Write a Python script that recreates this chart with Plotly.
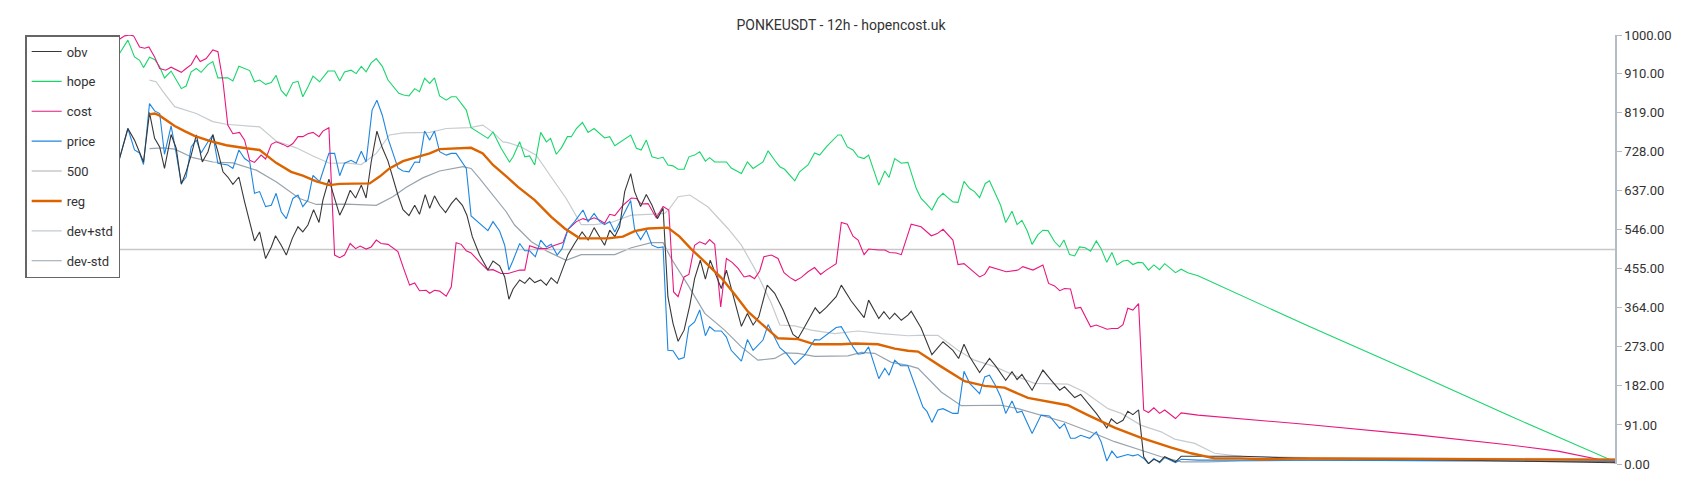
import plotly.graph_objects as go

# x = candle index (12h candles), y = normalised value 0..1000

hope_x = [0.5, 3.3, 5.5, 7.2, 8.5, 10.5, 12.2, 13.9, 15.5, 17.7, 21.1, 22.7, 24.4, 26.1, 27.7, 30, 31.6, 33.3, 36.6, 38.3,
          40.3, 43.9, 45.5, 47.2, 49.2, 51.1, 52.7, 54.4, 56.1, 58.3, 60, 61.6, 63.3, 65, 67.2, 70, 72.2, 73.9, 75.5, 77.7,
          79.4, 81.1, 82.7, 84.4, 86.1, 88.1, 90, 93.6, 95.2, 97, 98.9, 100.5, 102.2, 103.9, 105.5, 107.2, 109.4, 111.1,
          112.7, 114.4, 116.1, 117.7, 123.3, 125, 127.7, 130.5,
          131.7, 133.9, 135.6, 137.2, 138.9, 140.9, 142.8, 144.2, 146.1, 147.8, 149.8, 151.1, 152.8, 154.8, 156.7, 158.7,
          162.2, 163.9, 165.6, 170.9, 172.8, 174.4, 176.1, 178, 180, 181.7, 183.3, 185, 186.7, 188.7, 190.3, 192.2, 193.9,
          195.8, 197.2, 198.9, 202.8, 204.4, 207.8, 209.8, 211.7, 215, 216.7, 218.9, 220.6, 222.2, 225.6, 227.2, 230,
          232.2, 233.9, 236.1, 240, 241.1, 243.1, 245, 246.7, 248.7, 250.2, 253.6, 255.6, 257, 258.9, 261.1, 263.3,
          266.1, 267.7, 269.4, 271.3, 273.3, 275, 276.6, 278.3, 280, 282, 283.9, 285.5, 287.2, 289.1, 290.5, 292.4, 294.2,
          295.9, 298, 299.7, 301.3, 303.1, 304.7, 306.6, 308.3, 310, 312.2, 313.9, 315.3, 317.2, 318.9, 320.5, 322.4,
          324.2, 326.1, 327.7, 329.6, 331.3, 333, 335, 336.6, 338.3, 340, 341.6, 343.5, 345.3, 347.2, 348.9, 350.5,
          352.5, 354.4, 356.6, 360, 396.6, 430, 463.3, 499]
hope_y = [957, 988, 949, 941, 924, 948, 943, 926, 900, 916, 875, 881, 914, 922, 913, 931, 938, 900, 900, 893,
          927, 917, 891, 895, 885, 889, 906, 871, 858, 889, 892, 856, 879, 904, 891, 916, 916, 893, 914, 918,
          910, 927, 914, 935, 945, 927, 895, 864, 860, 858, 875, 868, 899, 887, 900, 858, 848, 856,
          856, 840, 825, 784, 759, 774, 736, 704,
          716, 751, 716, 718, 697, 773, 751, 759, 722, 737, 763, 763, 782, 796, 773, 782,
          760, 763, 742, 767, 736, 732, 755, 716, 712, 715, 697, 695, 687, 687, 716, 720, 728,
          706, 714, 704, 704, 690, 677, 704, 689, 704, 730, 708, 693, 687, 660, 681, 697,
          725, 720, 739, 767, 767, 739, 732, 716, 712, 720, 650, 683, 668, 712, 701, 703,
          642, 619, 607, 592, 619, 631, 621, 611, 610, 659, 642, 635, 621, 654, 660, 631, 603,
          563, 589, 558, 568, 543, 512, 534, 545, 544, 518, 506, 522, 488, 485, 506, 504,
          496, 520, 502, 470, 493, 464, 473, 475, 465, 470, 469, 452, 464, 453, 467, 457,
          446, 454, 446, 439, 322, 219, 114, 5]

cost_x = [0.5, 2.2, 3.9, 5.2, 7.2, 8.9, 10.3, 12.2, 13.9, 15.9, 17.7, 21.1, 22.7, 24.4, 26.1, 27.4, 29.4, 31.6, 33.3,
          35, 36.6, 38.3, 40.5, 42.2, 43.9, 45.5, 47.7, 49.2, 51.1, 52.7, 55, 56.6, 58.3, 60, 61.6, 63.3, 65, 67, 68.3,
          70.3, 72.2, 73.9, 75.5, 77.4, 79.2, 80.7, 82.7, 84.4, 86.1, 87.7, 90, 93.3, 95.2, 97.2, 98.9, 100.5, 102.7,
          103.9, 105.5, 107.2, 109.4, 111.1, 112.7, 114.4, 116.1, 117.7, 120.5, 123.3, 125, 127.7, 130,
          131.7, 133.9, 135.6, 137.2, 140, 142.8, 145.6, 148.3, 150, 152.8, 155, 156.7, 158.7, 160.6, 162.2, 163.9,
          165.6, 168.3, 171.1, 172.8, 174.4, 176.7, 179.4, 181.7, 183.6, 185.2, 186.7, 188.7, 190.3, 192.2, 193.9,
          195.8, 197.2, 198.9, 200.9, 202.8, 204.7, 206.7, 208.7, 210.6, 212.2, 213.9, 215.3, 217.8, 220, 222, 223.9,
          225.8, 227.8, 230, 232.2, 234.2, 236.1, 239.4, 241.1, 243.1, 245, 246.7, 248.7, 250.2, 253.6, 255.6, 257.2,
          259.4, 261.1, 263.3, 264.4, 267.7, 271.1, 273.1, 275, 278.3, 280, 282, 287.2, 288.9, 290.5, 296.1, 300,
          301.6, 305, 308.3, 310.2, 312.2, 313.9, 315.5, 317.5, 319.1, 320.9, 324.2, 326.1, 329.7, 331.3, 333.3, 335,
          336.6, 338.3, 340.2, 341.9, 343.5, 345.3, 347.2, 348.9, 352.5, 354.4, 360, 374.4, 396.6, 433, 463.3, 480, 499]
cost_y = [990, 998, 1000, 998, 972, 969, 972, 949, 922, 918, 925, 913, 922, 931, 952, 938, 945, 965, 961,
          891, 790, 770, 773, 755, 708, 703, 720, 711, 745, 751, 745, 739, 747, 763, 763, 770, 773, 763, 776,
          784, 487, 481, 487, 514, 502, 508, 501, 506, 522, 514, 512, 495, 456, 417, 422, 404, 405,
          398, 405, 403, 391, 413, 516, 512, 497, 492, 471, 452, 453, 444, 444,
          448, 452, 452, 509, 502, 502, 510, 516, 547, 565, 572, 568, 574, 568, 561, 582,
          579, 603, 620, 619, 606, 607, 574, 600, 592, 401, 390, 436, 442, 510, 518,
          512, 523, 512, 366, 479, 470, 456, 436, 439, 432, 450, 483, 487, 479, 446, 435,
          427, 435, 448, 458, 442, 452, 467, 563, 559, 531, 522, 488, 501, 499, 499, 493,
          492, 488, 537, 559, 553, 532, 537, 547, 522, 465, 467, 436, 442, 460, 448, 452,
          460, 452, 464, 421, 415, 404, 409, 408, 363, 365, 320, 324, 314, 316, 316, 325,
          363, 359, 374, 126, 120, 131, 118, 126, 106, 119, 114, 106, 92, 68, 45, 30, 3]

price_x = [0.5, 3.3, 5.5, 7.2, 8.5, 10.5, 12.2, 13.9, 15.5, 17.7, 19.4, 21.1, 22.7, 24.4, 26.1, 27.7, 30, 31.6, 33.3,
           36.6, 38.3, 40.3, 42.2, 43.9, 45.5, 47.2, 49.2, 51.1, 52.7, 54.4, 56.1, 58.3, 60, 61.6, 63.3, 65, 67.2, 70.3,
           72.2, 73.9, 75.5, 77.7, 79.4, 81.1, 82.7, 84.7, 86.3, 88.1, 90, 91.6, 93.3, 95, 97, 98.9, 100.5, 102.2, 103.9,
           105.5, 107.2, 109.4, 111.1, 112.7, 116.1, 117.7, 121.1, 123.3, 125, 127.2, 128.9, 130.3,
           131.7, 133.9, 135.6, 137.2, 139.1, 140.9, 142.8, 144.4, 146.4, 148, 150, 152.2, 155, 156.7, 158.7, 160.6,
           162.2, 163.9, 165.6, 168.3, 170.9, 172.2, 174.2, 176.1, 178, 180, 181.7, 183.3, 185, 186.9, 188.7, 190.3,
           192.2, 193.9, 195.8, 197.2, 198.9, 201.1, 202.8, 204.4, 207.8, 209.8, 211.7, 215, 216.7, 220.6, 222.8, 225.6,
           228.9, 232.2, 233.9, 239.4, 241.1, 243.1, 245, 246.7, 248.7, 250.2, 253.6, 255.6, 257, 258.9, 260.9, 263.3,
           266.1, 268.3, 269.7, 271.3, 273.3, 275, 278.3, 280, 282, 283.9, 287.2, 288.9, 290.5, 292.4, 294.2, 295.9,
           298, 299.7, 301.3, 304.7, 307.7, 310.5, 313.9, 315.5, 317.5, 319.1, 320.9, 323.9, 326.1, 327.7, 329.6,
           331.3, 333, 336.6, 338.3, 340, 341.9, 343.5, 345.3, 347.2, 348.9, 352.5, 354.4, 360, 396.6, 499]
price_y = [712, 782, 732, 725, 698, 840, 823, 817, 722, 788, 724, 654, 669, 739, 755, 725, 751, 767, 701,
           697, 689, 732, 712, 704, 631, 635, 600, 603, 631, 588, 572, 619, 627, 600, 615, 673, 658, 724,
           724, 672, 701, 708, 701, 729, 704, 825, 848, 813, 759, 724, 690, 683, 681, 704, 703, 776, 755,
           776, 728, 720, 724, 724, 689, 578, 557, 544, 565, 543, 510, 452,
           475, 514, 497, 497, 483, 522, 506, 512, 487, 502, 547, 565, 592, 565, 584, 565,
           558, 565, 541, 580, 614, 547, 523, 545, 510, 504, 506, 265, 264, 244, 248, 320,
           331, 359, 299, 320, 310, 310, 296, 265, 240, 290, 265, 289, 325, 271, 258, 232,
           254, 290, 289, 318, 320, 296, 273, 256, 258, 273, 199, 223, 207, 242, 229, 229,
           176, 133, 122, 97, 126, 129, 118, 118, 216, 188, 164, 203, 207, 184, 157, 118,
           147, 120, 123, 71, 114, 112, 83, 94, 60, 60, 67, 60, 75, 52, 7,
           30, 15, 22, 19, 22, 13, 1, 13, 3, 15, 3, 11, 9, 9, 6]

obv_x = [0.5, 3.3, 5.5, 7.2, 8.5, 10.5, 12.2, 13.9, 15.5, 17.7, 19.4, 21.1, 22.7, 24.4, 26.1, 28.1, 30, 31.6, 33.3,
         35, 36.6, 38.3, 40.3, 42.2, 43.9, 45.5, 47.2, 49.2, 51.1, 52.5, 54.4, 56.1, 58.1, 60, 61.6, 63.3, 65.2, 67,
         68.3, 70.3, 72.2, 73.9, 75.5, 77.4, 79.2, 81.1, 82.7, 84.4, 86.3, 88.1, 90, 91.6, 93.3, 95, 97, 98.9, 100.5,
         102.4, 103.9, 105.5, 107.2, 109.2, 111.1, 112.7, 114.8, 116.3, 118.1, 120.5, 123.3, 125, 127.2, 128.9, 130.3,
         131.7, 133.9, 135.6, 137.2, 138.9, 140.9, 142.8, 144.4, 146.4, 148.3, 150, 152.2, 154.7, 156.7, 158.7, 160.2,
         162.2, 163.9, 165.6, 167.2, 168.9, 170.9, 172.2, 174.2, 176.1, 178, 179.8, 181.7, 183.3, 185, 186.7, 188.7,
         190.6, 192.2, 194.1, 195.8, 197.4, 199.4, 201.1, 202.8, 204.7, 207.8, 209.8, 211.7, 213.6, 216.4, 218.9,
         221.7, 225, 226.7, 228.9, 232.4, 233.9, 236.1, 239.4, 241.1, 244.4, 248.7, 250.2, 253.6, 255.3, 257.2, 258.9,
         261.1, 263.3, 264.4, 267.7, 271.3, 275, 278.3, 280.2, 282, 283.9, 287.2, 290.5, 292.4, 295.9, 298, 299.7,
         301.3, 304.7, 308.3, 311.1, 313.9, 315.5, 318.9, 320.9, 324.2, 326.1, 329.6, 331.1, 333, 335, 336.6, 338.3,
         340.2, 341.9, 343.5, 345.3, 347.2, 348.9, 352.5, 354.4, 374.4, 396.6, 440, 499]
obv_y = [712, 782, 755, 728, 704, 819, 759, 739, 689, 768, 736, 652, 681, 720, 767, 704, 728, 768, 728,
         681, 669, 652, 669, 611, 565, 520, 541, 479, 506, 532, 510, 487, 526, 553, 541, 557, 593, 563,
         615, 664, 619, 580, 603, 638, 620, 650, 620, 704, 776, 737, 706, 667, 627, 593, 579, 603, 582,
         628, 596, 625, 603, 586, 607, 620, 603, 580, 530, 488, 452, 473, 462, 436, 384,
         408, 429, 421, 434, 423, 429, 417, 434, 421, 454, 488, 514, 541, 522, 551, 533,
         510, 545, 530, 553, 635, 677, 635, 600, 628, 603, 572, 596, 390, 328, 286, 312,
         370, 432, 475, 431, 475, 439, 409, 452, 401, 321, 351, 324, 343, 417, 398,
         359, 302, 293, 320, 364, 351, 365, 390, 417, 380, 341, 382, 339, 355, 338, 351,
         335, 347, 356, 317, 255, 285, 265, 246, 279, 250, 213, 246, 230, 195, 215, 197,
         209, 172, 219, 195, 172, 180, 155, 162, 133, 118, 84, 105, 94, 102, 123, 115,
         126, 17, 1, 11, 5, 17, 5, 18, 18, 13, 10, 3]

line500_x = [0, 499]
line500_y = [500, 500]

reg_x = [10.5, 12.2, 13.9, 16.1, 18.9, 22.2, 25.5, 30.5, 36.1, 42.7, 47.2, 49.4, 52.7, 57.7, 61.6, 66.1, 70.5, 73.9,
         78.3, 83.9, 87.2, 90.5, 95, 99.4, 103.9, 107.2, 111.6, 117.7, 121.6, 125, 130, 133.3, 138.9, 144.4, 148.9,
         153.9, 158.9, 163.3, 168.3, 172.2, 176.7, 183.3, 187.2, 191.1, 195.6, 201.1, 205.6, 210, 215.6, 220, 226.7,
         232.2, 241.1, 245.6, 253.3, 258.9, 263.3, 266.7, 274.4, 282.2, 288.9, 295.5, 303.3, 308.9, 316.6, 323.3,
         332.2, 341.1, 351.1, 357.7, 365.5, 374.4, 381.1, 396.6, 499]
reg_y = [815, 817, 812, 802, 788, 776, 765, 753, 743, 736, 732, 720, 702, 681, 672, 659, 650, 653,
         654, 654, 670, 689, 706, 714, 724, 734, 736, 737, 724, 697, 667, 646, 615, 576, 549,
         526, 526, 526, 530, 543, 549, 551, 530, 501, 471, 434, 395, 355, 320, 293, 291,
         279, 279, 281, 279, 269, 264, 262, 227, 193, 182, 178, 154, 147, 137, 114,
         85, 61, 38, 25, 13, 13, 11, 13, 10]

devp_x = [10.5, 12.7, 15, 18.9, 26.1, 31.6, 36.1, 42.7, 47.2, 52.7, 59.4, 65, 70.5, 76.1, 81.1, 86.1, 90.5, 95,
          103.9, 109.4, 117.2, 121.6, 125, 128.3, 130, 134.4, 139.4, 144.4, 149.4, 154.4, 158.9, 164.4, 171.1, 176.7,
          182.2, 183.9, 186.7, 190.6, 196.7, 203.3, 207.8, 212.2, 217.8, 220.6, 225.6, 231.1, 238.9, 246.7, 254.4,
          263.3, 266.7, 273.3, 280, 285.5, 292.2, 300, 305.5, 316.6, 322.2, 330, 334.4, 341.1, 347.7, 352.2, 358.9,
          365.5, 374.4, 396.6, 499]
devp_y = [895, 891, 868, 833, 817, 798, 792, 788, 786, 753, 737, 718, 701, 702, 698, 724, 767, 772,
          773, 782, 784, 790, 773, 751, 749, 739, 720, 669, 619, 558, 558, 563, 580, 582,
          584, 596, 623, 627, 599, 549, 510, 456, 374, 324, 322, 312, 304, 310, 304,
          299, 300, 300, 265, 242, 227, 203, 188, 186, 168, 129, 118, 90, 75, 58, 48,
          25, 18, 15, 12]

devm_x = [10.5, 15, 18.9, 25, 31.6, 38.3, 46.1, 52.7, 60.5, 66.1, 76.1, 86.1, 91.6, 96.1, 101.6, 107.2, 115, 117.7,
          120.5, 125, 129.4, 132.2, 137.8, 143.3, 149.4, 154.4, 165.6, 171.1, 177.8, 181.7, 184.4, 190, 195.6, 202.2,
          207.8, 213.3, 218.9, 222.2, 226.7, 232.2, 243.3, 247.8, 252.2, 257.8, 263.3, 266.7, 274.4, 281.1, 288.9,
          294.4, 300, 307.7, 315.5, 325.5, 332.2, 341.1, 347.7, 354.4, 363.3, 374.4, 396.6, 499]
devm_y = [735, 737, 734, 714, 704, 702, 685, 658, 619, 605, 606, 603, 623, 645, 667, 683, 693, 689,
          666, 627, 588, 557, 518, 495, 475, 488, 488, 504, 516, 516, 479, 417, 351, 312,
          273, 242, 246, 259, 258, 251, 252, 260, 258, 237, 230, 223, 168, 136, 136,
          137, 129, 114, 98, 71, 52, 32, 17, 5, 5, 7, 9, 6]

y_ticks = [0, 91, 182, 273, 364, 455, 546, 637, 728, 819, 910, 1000]

series = [
    ('dev+std', devp_x, devp_y, '#c5cbd0', 1.2, 7),
    ('dev-std', devm_x, devm_y, '#97a3ad', 1.2, 8),
    ('500', line500_x, line500_y, '#c8c8c8', 1.5, 5),
    ('hope', hope_x, hope_y, '#19d66b', 1.1, 2),
    ('cost', cost_x, cost_y, '#e8177f', 1.1, 3),
    ('price', price_x, price_y, '#1e86e0', 1.1, 4),
    ('obv', obv_x, obv_y, '#383838', 1.1, 1),
    ('reg', reg_x, reg_y, '#db6300', 2.4, 6),
]

fig = go.Figure()
for name, xs, ys, color, width, rank in series:
    fig.add_trace(go.Scatter(x=xs, y=ys, mode='lines', name=name,
                             line=dict(color=color, width=width),
                             legendrank=rank, legendgroup=name))

fig.update_layout(
    width=1700, height=500,
    paper_bgcolor='white', plot_bgcolor='white',
    font=dict(family='Roboto', size=13, color='#333333'),
    title=dict(text='PONKEUSDT - 12h - hopencost.uk', x=0.49, xanchor='center', y=0.965, yanchor='middle',
               font=dict(size=14, color='#333333')),
    margin=dict(l=110, r=93, t=27, b=44),
    showlegend=True,
    legend=dict(x=-0.062, xanchor='left', y=1.0, yanchor='top', bgcolor='white',
                bordercolor='#666666', borderwidth=1.5, tracegroupgap=10,
                font=dict(size=13, color='#333333')),
    hovermode='x unified',
)
fig.update_xaxes(visible=False, range=[0, 499])
fig.update_yaxes(side='right', range=[0, 1000], tickvals=y_ticks, tickformat='.2f',
                 showgrid=False, zeroline=False, showline=True, linecolor='#b4bcc4', linewidth=1.5,
                 ticks='outside', tickcolor='#b4bcc4', ticklen=5, tickfont=dict(size=13, color='#333333'))

fig.write_html('out.html')
